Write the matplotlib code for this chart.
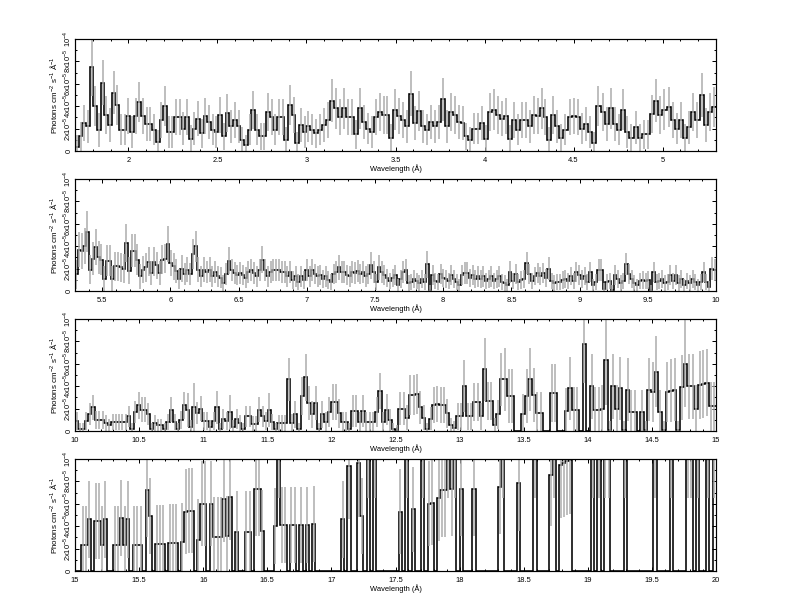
import numpy as np
import matplotlib.pyplot as plt
from matplotlib.ticker import MultipleLocator, FuncFormatter

plt.rcParams['font.family'] = ['Liberation Sans', 'DejaVu Sans']
plt.rcParams['mathtext.fontset'] = 'custom'
plt.rcParams['mathtext.rm'] = 'Liberation Sans'

# flux values in units of 1e-5 photons cm^-2 s^-1 A^-1, errors in the same units
# each panel is stored in three wavelength pieces
breaks1 = [1.7, 3.0, 4.42, 5.3]
flux1a = [0.4, 1.3, 2.5, 2.2, 7.5, 4.0, 1.9, 6.1, 3.2, 2.3, 5.2, 4.1, 1.9, 1.9, 3.1, 1.7, 3.1, 4.4, 3.1, 2.4,
          2.4, 1.9, 0.8, 2.8, 4.0, 1.7, 1.7, 3.0, 3.0, 2.0, 3.0, 1.1, 2.0, 2.9, 1.6, 3.1, 2.6, 1.9, 1.7, 3.2,
          1.3, 3.4, 2.2, 2.8, 2.2, 1.0, 0.5, 1.9, 3.7, 1.9, 1.3, 1.3, 3.5, 3.0, 1.9, 3.0, 3.0, 1.0, 4.1, 3.2,
          0.7, 2.3, 1.7]
flux1b = [2.2, 1.9, 1.6, 1.9, 2.3, 2.8, 4.5, 3.8, 3.0, 3.8, 3.0, 3.0, 1.5, 3.8, 2.6, 2.0, 1.7, 3.0, 3.5, 3.2,
          3.2, 1.2, 3.7, 3.1, 2.8, 2.2, 5.1, 2.5, 3.6, 2.2, 1.9, 2.6, 2.2, 2.6, 4.6, 2.2, 3.5, 3.2, 2.6, 2.5,
          1.3, 1.0, 2.0, 2.0, 2.5, 1.1, 3.5, 3.7, 3.2, 2.9, 3.1, 1.1, 2.8, 1.9, 2.8, 2.8, 2.2, 3.2, 3.1, 3.8,
          3.0, 1.0, 3.2, 2.2]
flux1c = [1.2, 1.9, 3.0, 3.1, 3.0, 2.0, 2.4, 1.7, 0.7, 4.0, 3.5, 2.4, 3.8, 2.4, 1.9, 3.7, 1.7, 1.2, 2.1, 1.2,
          1.5, 1.5, 3.3, 4.5, 3.2, 3.7, 3.9, 2.8, 2.0, 2.8, 1.2, 2.1, 3.5, 2.8, 5.0, 2.3, 3.5, 3.9]
err1a = [1.0, 1.3, 1.6, 1.5, 2.6, 1.8, 1.5, 2.0, 1.7, 1.5, 1.9, 1.8, 1.4, 1.4, 1.6, 1.4, 1.6, 1.8, 1.6, 1.5,
         1.5, 1.4, 1.1, 1.6, 1.8, 1.4, 1.4, 1.6, 1.6, 1.5, 1.6, 1.2, 1.5, 1.6, 1.3, 1.6, 1.5, 1.4, 1.4, 1.6,
         1.2, 1.7, 1.5, 1.6, 1.5, 1.1, 0.9, 1.4, 1.7, 1.4, 1.2, 1.2, 1.7, 1.6, 1.4, 1.6, 1.6, 1.1, 1.8, 1.6,
         1.0, 1.5, 1.4]
err1b = [1.4, 1.4, 1.3, 1.4, 1.5, 1.6, 1.9, 1.8, 1.6, 1.8, 1.6, 1.6, 1.3, 1.8, 1.5, 1.4, 1.4, 1.6, 1.7, 1.7,
         1.7, 1.2, 1.8, 1.6, 1.6, 1.5, 2.0, 1.5, 1.8, 1.5, 1.4, 1.5, 1.5, 1.5, 1.9, 1.5, 1.7, 1.7, 1.5, 1.5,
         1.2, 1.1, 1.4, 1.4, 1.5, 1.2, 1.7, 1.8, 1.7, 1.6, 1.6, 1.2, 1.6, 1.4, 1.6, 1.6, 1.5, 1.7, 1.6, 1.8,
         1.6, 1.1, 1.7, 1.5]
err1c = [1.2, 1.4, 1.6, 1.6, 1.6, 1.4, 1.5, 1.4, 1.0, 1.8, 1.7, 1.5, 1.8, 1.5, 1.4, 1.8, 1.4, 1.2, 1.5, 1.2,
         1.3, 1.3, 1.7, 1.9, 1.7, 1.8, 1.8, 1.6, 1.4, 1.6, 1.2, 1.5, 1.7, 1.6, 2.0, 1.5, 1.7, 1.8]

breaks2 = [5.3, 7.05, 8.5, 10.0]
flux2a = [1.5, 3.7, 3.6, 4.0, 5.3, 1.9, 2.9, 3.9, 3.0, 2.8, 1.1, 2.7, 2.7, 1.1, 2.2, 2.2, 2.1, 2.0, 4.3, 1.8,
          3.6, 3.6, 2.8, 1.3, 1.9, 2.1, 2.6, 1.6, 2.6, 2.3, 1.6, 2.8, 2.9, 4.2, 2.5, 2.2, 1.8, 1.1, 2.0, 1.5,
          1.9, 1.5, 3.3, 4.0, 1.9, 1.3, 1.9, 1.7, 1.9, 1.3, 1.7, 1.3, 1.2, 0.7, 1.5, 2.7, 1.9, 1.6, 1.4, 1.6,
          1.4, 1.2, 1.7, 1.9, 1.6, 1.3, 1.9, 2.8, 1.9, 1.3, 1.7, 1.9, 1.9, 1.9, 1.7, 1.7, 1.3, 1.7, 1.0, 1.3,
          0.8, 1.3, 1.0, 1.9, 1.3, 1.9]
flux2b = [1.5, 1.3, 1.4, 1.1, 1.3, 1.0, 0.8, 1.5, 1.7, 2.1, 1.7, 1.7, 1.4, 1.3, 1.7, 1.6, 1.8, 1.5, 1.7, 1.3,
          1.5, 2.3, 1.7, 0.8, 2.1, 1.7, 1.4, 1.2, 0.9, 1.2, 1.4, 0.5, 1.1, 1.7, 1.9, 0.7, 0.8, 1.1, 0.9, 0.7,
          1.1, 0.8, 2.4, 0.1, 1.4, 0.9, 0.8, 1.5, 1.2, 1.1, 0.9, 1.4, 1.1, 0.8, 0.5, 1.4, 1.6, 1.6, 1.2, 1.4,
          1.1, 1.3, 1.1, 1.3, 0.9, 1.1, 1.3, 0.9, 1.1, 1.3, 0.8, 0.7, 0.5, 1.7]
flux2c = [0.9, 1.5, 0.8, 1.0, 1.1, 2.5, 1.5, 0.9, 1.3, 1.6, 1.3, 1.6, 1.2, 2.0, 0.9, 0.7, 0.8, 0.8, 1.0, 1.1,
          0.9, 1.3, 0.9, 1.7, 1.4, 1.1, 1.3, 0.8, 1.7, 0.5, 0.8, 1.9, 1.9, 0.2, 0.8, 0.9, 0.1, 1.4, 1.1, 0.7,
          0.9, 2.4, 1.5, 1.1, 0.7, 0.5, 0.9, 1.0, 0.9, 1.0, 0.1, 1.7, 0.8, 0.9, 1.1, 0.7, 0.8, 1.4, 0.9, 1.4,
          0.7, 1.1, 0.5, 0.9, 0.7, 1.1, 0.8, 0.5, 0.8, 1.7, 0.8, 0.4, 2.0, 1.9]
err2a = [1.3, 1.6, 1.6, 1.6, 1.8, 1.3, 1.5, 1.6, 1.5, 1.4, 1.1, 1.4, 1.4, 1.1, 1.3, 1.3, 1.3, 1.3, 1.7, 1.2,
         1.5, 1.5, 1.4, 1.1, 1.2, 1.3, 1.3, 1.1, 1.3, 1.2, 1.1, 1.3, 1.3, 1.6, 1.2, 1.2, 1.1, 0.9, 1.2, 1.0,
         1.1, 1.0, 1.3, 1.4, 1.1, 0.9, 1.1, 1.0, 1.1, 0.9, 1.0, 0.9, 0.9, 0.7, 1.0, 1.2, 1.0, 1.0, 0.9, 1.0,
         0.9, 0.9, 1.0, 1.0, 1.0, 0.9, 1.0, 1.2, 1.0, 0.9, 1.0, 1.0, 1.0, 1.0, 1.0, 1.0, 0.9, 1.0, 0.8, 0.9,
         0.7, 0.9, 0.8, 1.0, 0.9, 1.0]
err2b = [0.9, 0.9, 0.9, 0.8, 0.9, 0.8, 0.7, 0.9, 1.0, 1.1, 1.0, 1.0, 0.9, 0.9, 1.0, 1.0, 1.0, 0.9, 1.0, 0.9,
         0.9, 1.2, 1.0, 0.7, 1.1, 1.0, 0.9, 0.8, 0.7, 0.8, 0.9, 0.6, 0.8, 1.0, 1.0, 0.7, 0.7, 0.8, 0.7, 0.7,
         0.8, 0.7, 1.2, 0.4, 0.9, 0.7, 0.7, 0.9, 0.8, 0.8, 0.7, 0.9, 0.8, 0.7, 0.6, 0.9, 1.0, 1.0, 0.8, 0.9,
         0.8, 0.9, 0.8, 0.9, 0.7, 0.8, 0.9, 0.7, 0.8, 0.9, 0.7, 0.7, 0.6, 1.0]
err2c = [0.7, 0.9, 0.7, 0.8, 0.8, 1.0, 0.9, 0.7, 0.8, 0.9, 0.8, 0.9, 0.8, 1.0, 0.7, 0.7, 0.7, 0.7, 0.8, 0.8,
         0.7, 0.8, 0.7, 0.9, 0.9, 0.8, 0.8, 0.7, 0.9, 0.6, 0.7, 1.0, 1.0, 0.5, 0.7, 0.7, 0.4, 0.9, 0.8, 0.7,
         0.7, 1.0, 0.9, 0.8, 0.7, 0.6, 0.7, 0.8, 0.7, 0.8, 0.4, 0.9, 0.7, 0.7, 0.8, 0.7, 0.7, 0.9, 0.7, 0.9,
         0.7, 0.8, 0.6, 0.7, 0.7, 0.8, 0.7, 0.6, 0.7, 0.9, 0.7, 0.5, 1.0, 1.0]

breaks3 = [10.0, 11.68, 13.34, 15.0]
flux3a = [0.9, 0.2, 0.2, 0.9, 1.5, 2.1, 1.0, 1.0, 1.0, 0.7, 0.5, 0.8, 0.8, 0.8, 0.8, 0.8, 1.3, 0.2, 1.7, 2.3,
          1.9, 1.9, 1.5, 0.2, 0.7, 0.5, 0.5, 0.2, 0.8, 1.9, 0.8, 0.2, 1.0, 2.3, 1.9, 0.4, 2.1, 1.6, 2.0, 0.9,
          0.9, 0.4, 0.9, 2.1, 0.2, 1.1, 0.9, 1.7, 0.4, 1.1, 0.7, 0.2, 1.3, 1.3, 0.6, 0.6, 1.9, 1.3, 0.9, 1.9,
          0.8, 0.2, 0.7, 0.7, 0.7, 4.6]
flux3b = [0.7, 1.5, 0.2, 3.1, 4.8, 2.5, 1.5, 2.5, 0.2, 1.5, 0.8, 1.7, 2.6, 2.6, 1.6, 0.8, 0.8, 0.2, 1.8, 1.8,
          0.8, 1.8, 0.8, 0.8, 0.8, 1.7, 3.6, 0.8, 1.9, 1.0, 0.2, 0.1, 2.0, 2.0, 1.2, 3.2, 3.2, 3.3, 2.1, 1.2,
          0.2, 1.1, 2.3, 2.4, 2.3, 2.3, 1.6, 0.5, 0.3, 1.3, 1.3, 4.0, 1.3, 1.3, 2.6, 2.6, 1.3, 5.5, 2.7, 2.7,
          0.5, 1.5, 4.6]
flux3c = [4.6, 3.1, 3.1, 0.0, 0.0, 1.5, 3.1, 4.6, 3.2, 1.6, 1.6, 0.0, 0.0, 3.4, 3.4, 0.0, 0.0, 1.8, 3.8, 1.9,
          1.9, 0.0, 7.8, 0.0, 4.0, 1.9, 1.9, 2.0, 6.3, 0.1, 4.0, 2.0, 3.8, 0.1, 3.7, 1.7, 1.7, 0.0, 1.7, 0.1,
          3.7, 3.5, 5.3, 1.7, 0.1, 3.5, 3.6, 3.7, 0.1, 3.9, 6.0, 4.0, 4.0, 2.0, 4.1, 4.2, 4.3, 2.2, 2.2]
err3a = [0.8, 0.5, 0.5, 0.8, 1.0, 1.1, 0.8, 0.8, 0.8, 0.7, 0.6, 0.7, 0.7, 0.7, 0.7, 0.7, 0.9, 0.5, 1.0, 1.2,
         1.1, 1.1, 1.0, 0.5, 0.7, 0.6, 0.6, 0.5, 0.7, 1.1, 0.7, 0.5, 0.8, 1.2, 1.5, 0.6, 2.2, 1.0, 1.1, 0.8,
         0.8, 0.6, 0.8, 1.5, 0.5, 0.9, 0.8, 1.5, 0.6, 0.9, 0.7, 0.5, 0.9, 0.9, 0.7, 0.7, 1.1, 0.9, 0.8, 1.5,
         0.7, 0.5, 0.7, 0.7, 0.7, 1.9]
err3b = [0.8, 1.2, 0.5, 1.7, 2.1, 1.5, 1.2, 1.5, 0.5, 1.2, 0.9, 1.3, 1.6, 1.6, 1.3, 0.9, 0.9, 0.5, 1.4, 1.4,
         0.9, 1.4, 0.9, 0.9, 0.9, 1.3, 1.6, 0.9, 1.4, 1.0, 0.5, 0.4, 1.5, 1.5, 1.1, 1.8, 1.8, 1.8, 1.5, 1.1,
         0.5, 1.0, 1.6, 1.6, 1.6, 1.6, 1.3, 0.7, 0.6, 1.2, 1.2, 2.3, 1.2, 1.2, 1.7, 1.7, 1.2, 2.8, 1.7, 1.7,
         0.7, 1.3, 2.4]
err3c = [2.8, 2.4, 2.4, 0.0, 0.0, 1.8, 2.4, 2.8, 2.4, 1.9, 1.9, 0.0, 0.0, 2.6, 2.6, 0.0, 0.0, 2.0, 2.8, 2.0,
         2.0, 0.0, 3.5, 0.0, 2.9, 2.0, 2.0, 2.1, 4.0, 0.8, 2.9, 2.1, 2.8, 0.8, 2.8, 2.0, 2.0, 0.0, 2.0, 0.8,
         2.8, 2.7, 3.2, 2.0, 0.8, 2.7, 2.8, 2.8, 0.8, 2.9, 3.9, 2.9, 2.9, 2.1, 3.0, 3.0, 3.0, 2.2, 2.2]

breaks4 = [15.0, 16.775, 19.15, 20.0]
flux4a = [0, 0, 2.3, 2.3, 4.6, 0, 4.5, 4.5, 2.3, 4.6, 0, 0, 2.3, 2.3, 4.7, 2.3, 4.6, 0, 2.3, 2.3,
          2.3, 0, 7.2, 4.9, 0, 2.4, 2.4, 2.4, 0, 2.5, 2.5, 2.5, 0, 2.6, 5.3, 5.4, 5.4, 0, 2.8, 6.0,
          6.0, 0, 6.0, 3.0, 3.0, 3.0, 6.4, 3.1, 6.6, 0, 3.5, 0, 0, 3.5, 3.5, 0, 7.3, 7.3, 3.6, 0,
          0, 0, 4.0, 12, 4.1, 4.1, 0, 4.1, 4.1, 0, 4.1]
flux4b = [0, 4.1, 0, 4.2, 0, 0, 0, 0, 0, 0, 0, 0, 4.6, 0, 9.4, 0, 0, 9.6, 4.9, 0,
          12, 0, 12, 0, 0, 0, 0, 0, 0, 0, 5.3, 0, 12, 0, 5.5, 0, 0, 12, 0, 6.0,
          6.1, 0, 6.5, 7.2, 7.2, 12, 7.3, 12, 0, 7.3, 0, 0, 0, 7.3, 0, 0, 0, 0, 0, 0,
          0, 7.5, 12, 0, 0, 0, 0, 7.9, 0, 0, 0, 0, 12, 0, 0, 0, 0, 8.6, 12, 0,
          9.5, 9.6, 9.8, 9.9, 0, 0, 0, 0, 0, 0, 12, 0, 12, 0, 12]
flux4c = [12, 0, 0, 0, 0, 12, 0, 0, 0, 0, 0, 0, 0, 0, 12, 0, 0, 0, 0, 12,
          0, 0, 0, 0, 12, 12, 0, 12, 0, 0, 12, 0, 12]
err4a = [0, 0, 3.5, 3.5, 3.4, 0, 3.4, 3.4, 3.5, 3.4, 0, 0, 3.5, 3.5, 3.4, 3.5, 3.4, 0, 3.5, 3.5,
         3.5, 0, 4.2, 3.4, 0, 3.5, 3.5, 3.5, 0, 3.5, 3.5, 3.5, 0, 3.5, 3.8, 3.8, 3.8, 0, 3.6, 3.8,
         3.8, 0, 3.8, 3.6, 3.6, 3.6, 3.8, 3.6, 3.8, 0, 3.6, 0, 0, 3.6, 3.6, 0, 4.2, 4.2, 3.6, 0,
         0, 0, 3.4, 5.5, 3.4, 3.4, 0, 3.4, 3.4, 0, 3.4]
err4b = [0, 3.4, 0, 3.4, 0, 0, 0, 0, 0, 0, 0, 0, 3.4, 0, 4.8, 0, 0, 4.8, 3.4, 0,
         5.5, 0, 5.5, 0, 0, 0, 0, 0, 0, 0, 3.8, 0, 5.5, 0, 3.8, 0, 0, 5.5, 0, 3.8,
         3.8, 0, 3.8, 4.2, 4.2, 5.5, 4.2, 5.5, 0, 4.2, 0, 0, 0, 4.2, 0, 0, 0, 0, 0, 0,
         0, 4.2, 5.5, 0, 0, 0, 0, 4.3, 0, 0, 0, 0, 5.5, 0, 0, 0, 0, 4.6, 5.5, 0,
         4.8, 4.8, 4.8, 4.8, 0, 0, 0, 0, 0, 0, 5.5, 0, 5.5, 0, 5.5]
err4c = [5.5, 0, 0, 0, 0, 5.5, 0, 0, 0, 0, 0, 0, 0, 0, 5.5, 0, 0, 0, 0, 5.5,
         0, 0, 0, 0, 5.5, 5.5, 0, 5.5, 0, 0, 5.5, 0, 5.5]

panels = [
    (breaks1, [flux1a, flux1b, flux1c], [err1a, err1b, err1c]),
    (breaks2, [flux2a, flux2b, flux2c], [err2a, err2b, err2c]),
    (breaks3, [flux3a, flux3b, flux3c], [err3a, err3b, err3c]),
    (breaks4, [flux4a, flux4b, flux4c], [err4a, err4b, err4c]),
]

ytick_vals = [0, 2e-5, 4e-5, 6e-5, 8e-5, 1e-4]
ytick_labels = ['0', r'2x10$^{-5}$', r'4x10$^{-5}$', r'6x10$^{-5}$', r'8x10$^{-5}$', r'10$^{-4}$']

fig = plt.figure(figsize=(11, 8.5), dpi=72)
tops = [39, 179, 319, 459]
for i, (brk, fl, er) in enumerate(panels):
    ax = fig.add_axes([75 / 792, 1 - (tops[i] + 112) / 612, 641 / 792, 112 / 612])
    edges = [np.linspace(brk[k], brk[k + 1], len(fl[k]) + 1) for k in range(3)]
    edges = np.concatenate([edges[0], edges[1][1:], edges[2][1:]])
    f = np.array(fl[0] + fl[1] + fl[2]) * 1e-5
    e = np.array(er[0] + er[1] + er[2]) * 1e-5
    centers = 0.5 * (edges[:-1] + edges[1:])

    ax.errorbar(centers, f, yerr=e, fmt='none', ecolor='#aaaaaa', elinewidth=1.5, capsize=0)
    ax.stairs(f, edges, baseline=None, color='black', lw=1.6)
    ax.set_xlim(brk[0], brk[-1])
    ax.set_ylim(0, 1e-4)

    ax.xaxis.set_major_locator(MultipleLocator(0.5))
    ax.xaxis.set_minor_locator(MultipleLocator(0.1))
    ax.xaxis.set_major_formatter(FuncFormatter(lambda v, p: '%g' % v))
    ax.set_yticks(ytick_vals)
    ax.set_yticklabels(ytick_labels, rotation=90, va='center')
    ax.yaxis.set_minor_locator(MultipleLocator(1e-5))
    ax.tick_params(which='both', direction='in', top=True, right=True, labelsize=7.5, width=1)
    ax.tick_params(which='major', length=4)
    ax.tick_params(which='minor', length=2)
    ax.tick_params(axis='x', pad=6)
    ax.tick_params(axis='y', pad=2)
    for s in ax.spines.values():
        s.set_linewidth(1.2)

    ax.set_xlabel('Wavelength (Å)', fontsize=7.5, labelpad=0)
    ax.set_ylabel(r'Photons cm$^{-2}$ s$^{-1}$ Å$^{-1}$', fontsize=8, labelpad=1)

plt.savefig('out.png', dpi=72)
